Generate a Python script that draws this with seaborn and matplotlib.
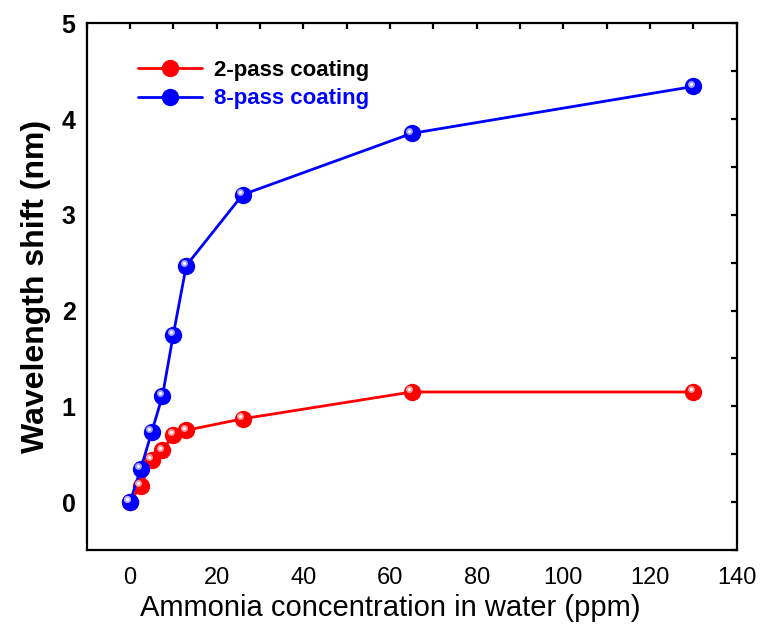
import numpy as np
import pandas as pd
import matplotlib
matplotlib.use("Agg")
import matplotlib.pyplot as plt
import matplotlib.transforms as mtransforms
from matplotlib.lines import Line2D
from matplotlib.ticker import MultipleLocator
import seaborn as sns

# Ammonia concentration (ppm) and wavelength shift (nm) per coating
concentration = [0, 2.5, 5, 7.5, 10, 13, 26, 65, 130]
shift_2pass = [0.0, 0.17, 0.44, 0.54, 0.70, 0.75, 0.87, 1.15, 1.15]
shift_8pass = [0.0, 0.35, 0.73, 1.11, 1.75, 2.47, 3.21, 3.85, 4.34]
series_names = ["2-pass coating", "8-pass coating"]
series_colors = ["#ff0000", "#0000ff"]
highlight_colors = ["#ffb0b0", "#b8b8ff"]

x_ticks = [0, 20, 40, 60, 80, 100, 120, 140]
y_ticks = [0, 1, 2, 3, 4, 5]

df = pd.DataFrame({
    "conc": concentration * 2,
    "shift": shift_2pass + shift_8pass,
    "coating": [series_names[0]] * len(concentration) + [series_names[1]] * len(concentration),
})

sns.set_theme(style="white")
plt.rcParams["font.family"] = ["Liberation Sans", "DejaVu Sans"]

fig = plt.figure(figsize=(7.6, 6.29), dpi=100)
ax = fig.add_axes([0.114, 0.1256, 0.8553, 0.8374])

MS = 12.5
sns.lineplot(
    data=df, x="conc", y="shift", hue="coating", palette=series_colors,
    marker="o", markersize=MS, markeredgewidth=0, linewidth=2.0,
    sort=False, estimator=None, ax=ax, legend=False,
)

# glossy highlight on each sphere marker
hl = mtransforms.offset_copy(ax.transData, fig=fig, x=-2.0, y=2.0, units="points")
for vals, hc in zip([shift_2pass, shift_8pass], highlight_colors):
    ax.plot(concentration, vals, linestyle="none", marker="o", markersize=5,
            markeredgewidth=0, color=hc, alpha=0.9, transform=hl, zorder=5)
    ax.plot(concentration, vals, linestyle="none", marker="o", markersize=2.2,
            markeredgewidth=0, color="white", transform=hl, zorder=6)

ax.set_xlim(-10, 140)
ax.set_ylim(-0.5, 5)
ax.set_xticks(x_ticks)
ax.set_yticks(y_ticks)
ax.xaxis.set_minor_locator(MultipleLocator(10))
ax.yaxis.set_minor_locator(MultipleLocator(0.5))

for side in ["left", "right", "top", "bottom"]:
    ax.spines[side].set_visible(True)
    ax.spines[side].set_color("black")
    ax.spines[side].set_linewidth(1.6)

ax.tick_params(which="both", direction="in", colors="black", width=1.6,
               top=True, right=True)
ax.tick_params(which="major", length=12)
ax.tick_params(which="minor", length=6)
ax.tick_params(axis="x", which="major", pad=12)
ax.tick_params(axis="y", which="major", pad=8)

# short mirrored ticks on top and right spines
for t in ax.xaxis.get_major_ticks() + ax.xaxis.get_minor_ticks():
    t.tick2line.set_markersize(4)
for t in ax.yaxis.get_major_ticks() + ax.yaxis.get_minor_ticks():
    t.tick2line.set_markersize(4)

for lbl in ax.get_xticklabels():
    lbl.set_fontsize(17)
for lbl in ax.get_yticklabels():
    lbl.set_fontweight("bold")
    lbl.set_fontsize(18)

ax.set_xlabel("Ammonia concentration in water (ppm)", fontsize=21,
              color="black")
ax.set_ylabel("Wavelength shift (nm)", fontweight="bold", fontsize=23,
              color="black")
ax.xaxis.set_label_coords(0.467, -0.084)
ax.yaxis.set_label_coords(-0.055, 0.5)

handles = [
    Line2D([0], [0], color=c, linewidth=2.0, marker="o", markersize=MS,
           markeredgewidth=0)
    for c in series_colors
]
leg = ax.legend(handles, series_names, loc="upper left",
                bbox_to_anchor=(0.079, 0.931), frameon=False,
                handlelength=2.9, handletextpad=0.5, labelspacing=0.35,
                borderpad=0, borderaxespad=0,
                prop={"size": 16, "weight": "bold"})
for txt, c in zip(leg.get_texts(), ["black", series_colors[1]]):
    txt.set_color(c)

fig.savefig("out.png", dpi=100)
